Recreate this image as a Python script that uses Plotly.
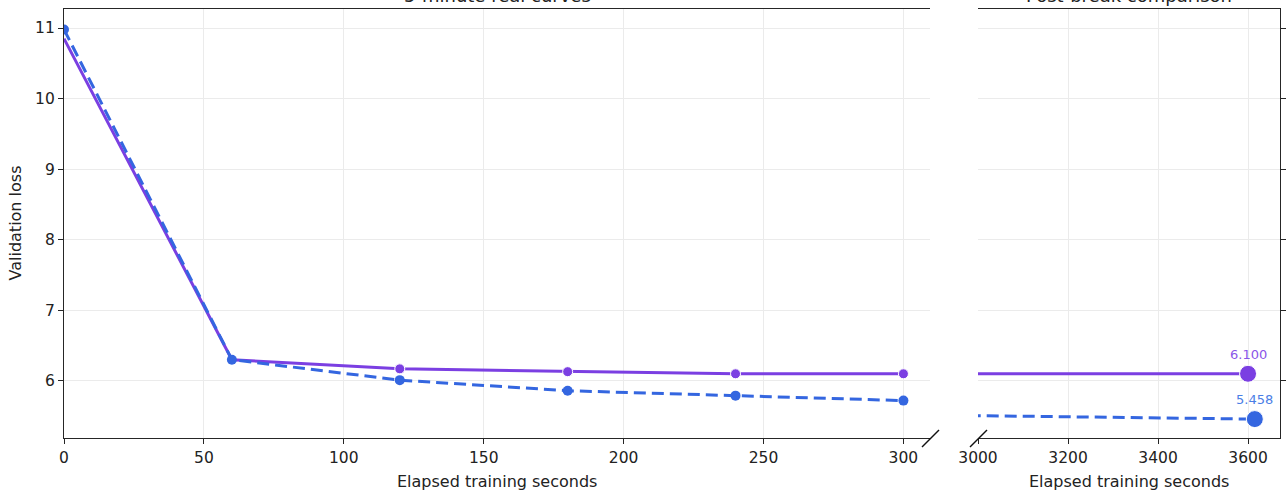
import plotly.graph_objects as go

# ---- data ----
t_5min = [0, 60, 120, 180, 240, 300]
purple_loss = [10.85, 6.30, 6.17, 6.13, 6.10, 6.10]
blue_loss = [10.98, 6.30, 6.01, 5.86, 5.79, 5.72]
purple_marker_sizes = [0, 0, 10, 10, 10, 10]

purple_final_t = 3600
purple_final_loss = 6.100
blue_final_t = 3615
blue_final_loss = 5.458

left_ticks = [0, 50, 100, 150, 200, 250, 300]
right_ticks = [3000, 3200, 3400, 3600]
y_ticks = [6, 7, 8, 9, 10, 11]

PURPLE = "#7B3FE2"
BLUE = "#3466E0"
PURPLE_TXT = "#8A55E8"
BLUE_TXT = "#4A7EE6"
AX = "#262626"
GRID = "#EBEBEB"
FONT = "DejaVu Sans"
TXT = "#222"

fig = go.Figure()

# left panel
fig.add_trace(go.Scatter(
    x=t_5min, y=purple_loss, mode="lines+markers", name="purple",
    line=dict(color=PURPLE, width=3),
    marker=dict(size=purple_marker_sizes, color=PURPLE, opacity=1),
    xaxis="x", yaxis="y", showlegend=False))
fig.add_trace(go.Scatter(
    x=t_5min, y=blue_loss, mode="lines+markers", name="blue",
    line=dict(color=BLUE, width=3, dash="12px,6px"),
    marker=dict(size=10, color=BLUE, opacity=1),
    xaxis="x", yaxis="y", showlegend=False))

# right panel
fig.add_trace(go.Scatter(
    x=[t_5min[-1], purple_final_t], y=[purple_loss[-1], purple_final_loss],
    mode="lines+markers", line=dict(color=PURPLE, width=3),
    marker=dict(size=[0, 17], color=PURPLE, opacity=1),
    xaxis="x2", yaxis="y2", showlegend=False))
fig.add_trace(go.Scatter(
    x=[t_5min[-1], blue_final_t], y=[blue_loss[-1], blue_final_loss],
    mode="lines+markers", line=dict(color=BLUE, width=3, dash="12px,6px"),
    marker=dict(size=[0, 17], color=BLUE, opacity=1),
    xaxis="x2", yaxis="y2", showlegend=False))

L, R, T, B = 64, 6, 9, 58
W, H = 1286, 496
PW = W - L - R
PH = H - T - B
left_end = (930 - L) / PW
right_start = (978 - L) / PW

yr = [5.19, 11.27]
common_axis = dict(showline=True, linecolor=AX, linewidth=1.2, ticks="outside",
                   ticklen=5, tickwidth=1.1, tickcolor=AX, showgrid=True,
                   gridcolor=GRID, gridwidth=1, zeroline=False, automargin=False,
                   tickfont=dict(family=FONT, size=15.5, color=TXT))

fig.update_layout(
    width=W, height=H,
    margin=dict(l=L, r=R, t=T, b=B, autoexpand=False),
    paper_bgcolor="white", plot_bgcolor="white",
    font=dict(family=FONT, size=15, color=TXT),
    xaxis=dict(domain=[0, left_end], range=[0, 309.5], tickvals=left_ticks,
               mirror=True, anchor="y", **common_axis),
    xaxis2=dict(domain=[right_start, 1], range=[3000, 3671], tickvals=right_ticks,
                mirror=True, anchor="y2", **common_axis),
    yaxis=dict(domain=[0, 1], range=yr, tickvals=y_ticks, anchor="x", **common_axis),
    yaxis2=dict(domain=[0, 1], range=yr, tickvals=y_ticks, anchor="x2",
                side="right", showticklabels=False, **common_axis),
)

# axis titles
for xc in (left_end / 2, (right_start + 1) / 2):
    fig.add_annotation(text="Elapsed training seconds", xref="paper", yref="paper",
                       x=xc, y=0, xanchor="center", yanchor="middle", yshift=-43,
                       showarrow=False, font=dict(family=FONT, size=16, color=TXT))
fig.add_annotation(text="Validation loss", xref="paper", yref="paper", x=0, y=0.5,
                   xanchor="center", yanchor="middle", xshift=-49, textangle=-90,
                   showarrow=False, font=dict(family=FONT, size=16, color=TXT))

# panel titles (partially above the top edge, as in the reference)
fig.add_annotation(text="5-minute real curves", xref="paper", yref="paper",
                   x=left_end / 2, y=1, xanchor="center", yanchor="bottom", yshift=1,
                   showarrow=False, font=dict(family=FONT, size=18, color=TXT))
fig.add_annotation(text="Post-break comparison", xref="paper", yref="paper",
                   x=(right_start + 1) / 2, y=1, xanchor="center", yanchor="bottom",
                   yshift=1, showarrow=False, font=dict(family=FONT, size=18, color=TXT))

# value labels
fig.add_annotation(text=f"{purple_final_loss:.3f}", x=purple_final_t, y=purple_final_loss,
                   xref="x2", yref="y2", xanchor="center", yanchor="bottom", yshift=10,
                   showarrow=False, font=dict(family=FONT, size=13, color=PURPLE_TXT))
fig.add_annotation(text=f"{blue_final_loss:.3f}", x=blue_final_t, y=blue_final_loss,
                   xref="x2", yref="y2", xanchor="center", yanchor="bottom", yshift=10,
                   showarrow=False, font=dict(family=FONT, size=13, color=BLUE_TXT))

# broken-axis diagonal marks
for xa in (left_end, right_start):
    fig.add_shape(type="line", xref="paper", yref="paper",
                  xsizemode="pixel", ysizemode="pixel", xanchor=xa, yanchor=0,
                  x0=-8, x1=9, y0=-9, y1=8, line=dict(color="#111", width=1.5))

fig.write_html("out.html")
